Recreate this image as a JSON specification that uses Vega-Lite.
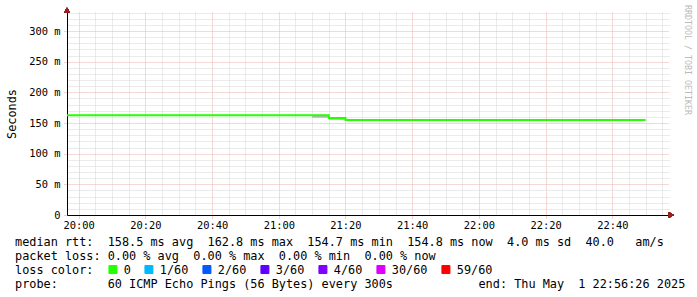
{
  "$schema": "https://vega.github.io/schema/vega-lite/v6.json",
  "width": 602,
  "height": 203,
  "autosize": "none",
  "padding": {"left": 67, "top": 12, "right": 28, "bottom": 82},
  "background": "white",
  "config": {"view": {"stroke": null}, "font": "DejaVu Sans Mono"},
  "data": {"values": [
    {"time": "2025-05-01T19:55:00Z", "median": 162.8, "lo": 162.8, "hi": 162.8, "loss": "0"},
    {"time": "2025-05-01T20:00:00Z", "median": 162.8, "lo": 162.8, "hi": 162.8, "loss": "0"},
    {"time": "2025-05-01T20:05:00Z", "median": 162.8, "lo": 162.8, "hi": 162.8, "loss": "0"},
    {"time": "2025-05-01T20:10:00Z", "median": 162.8, "lo": 162.8, "hi": 162.8, "loss": "0"},
    {"time": "2025-05-01T20:15:00Z", "median": 162.8, "lo": 162.8, "hi": 162.8, "loss": "0"},
    {"time": "2025-05-01T20:20:00Z", "median": 162.8, "lo": 162.8, "hi": 162.8, "loss": "0"},
    {"time": "2025-05-01T20:25:00Z", "median": 162.8, "lo": 162.8, "hi": 162.8, "loss": "0"},
    {"time": "2025-05-01T20:30:00Z", "median": 162.8, "lo": 162.8, "hi": 162.8, "loss": "0"},
    {"time": "2025-05-01T20:35:00Z", "median": 162.8, "lo": 162.8, "hi": 162.8, "loss": "0"},
    {"time": "2025-05-01T20:40:00Z", "median": 162.8, "lo": 162.8, "hi": 162.8, "loss": "0"},
    {"time": "2025-05-01T20:45:00Z", "median": 162.8, "lo": 162.8, "hi": 162.8, "loss": "0"},
    {"time": "2025-05-01T20:50:00Z", "median": 162.8, "lo": 162.8, "hi": 162.8, "loss": "0"},
    {"time": "2025-05-01T20:55:00Z", "median": 162.8, "lo": 162.8, "hi": 162.8, "loss": "0"},
    {"time": "2025-05-01T21:00:00Z", "median": 162.8, "lo": 162.8, "hi": 162.8, "loss": "0"},
    {"time": "2025-05-01T21:05:00Z", "median": 162.8, "lo": 162.8, "hi": 162.8, "loss": "0"},
    {"time": "2025-05-01T21:10:00Z", "median": 162.8, "lo": 162.8, "hi": 162.8, "loss": "0"},
    {"time": "2025-05-01T21:15:00Z", "median": 162.8, "lo": 158.6, "hi": 162.8, "loss": "0"},
    {"time": "2025-05-01T21:20:00Z", "median": 158.2, "lo": 155.4, "hi": 158.2, "loss": "0"},
    {"time": "2025-05-01T21:25:00Z", "median": 154.8, "lo": 154.8, "hi": 154.8, "loss": "0"},
    {"time": "2025-05-01T21:30:00Z", "median": 154.8, "lo": 154.8, "hi": 154.8, "loss": "0"},
    {"time": "2025-05-01T21:35:00Z", "median": 154.8, "lo": 154.8, "hi": 154.8, "loss": "0"},
    {"time": "2025-05-01T21:40:00Z", "median": 154.8, "lo": 154.8, "hi": 154.8, "loss": "0"},
    {"time": "2025-05-01T21:45:00Z", "median": 154.8, "lo": 154.8, "hi": 154.8, "loss": "0"},
    {"time": "2025-05-01T21:50:00Z", "median": 154.8, "lo": 154.8, "hi": 154.8, "loss": "0"},
    {"time": "2025-05-01T21:55:00Z", "median": 154.8, "lo": 154.8, "hi": 154.8, "loss": "0"},
    {"time": "2025-05-01T22:00:00Z", "median": 154.7, "lo": 154.7, "hi": 154.7, "loss": "0"},
    {"time": "2025-05-01T22:05:00Z", "median": 154.8, "lo": 154.8, "hi": 154.8, "loss": "0"},
    {"time": "2025-05-01T22:10:00Z", "median": 154.8, "lo": 154.8, "hi": 154.8, "loss": "0"},
    {"time": "2025-05-01T22:15:00Z", "median": 154.8, "lo": 154.8, "hi": 154.8, "loss": "0"},
    {"time": "2025-05-01T22:20:00Z", "median": 154.8, "lo": 154.8, "hi": 154.8, "loss": "0"},
    {"time": "2025-05-01T22:25:00Z", "median": 154.8, "lo": 154.8, "hi": 154.8, "loss": "0"},
    {"time": "2025-05-01T22:30:00Z", "median": 154.8, "lo": 154.8, "hi": 154.8, "loss": "0"},
    {"time": "2025-05-01T22:35:00Z", "median": 154.8, "lo": 154.8, "hi": 154.8, "loss": "0"},
    {"time": "2025-05-01T22:40:00Z", "median": 154.8, "lo": 154.8, "hi": 154.8, "loss": "0"},
    {"time": "2025-05-01T22:45:00Z", "median": 154.8, "lo": 154.8, "hi": 154.8, "loss": "0"},
    {"time": "2025-05-01T22:50:00Z", "median": 154.8, "lo": 154.8, "hi": 154.8, "loss": "0"}
  ]},
  "resolve": {"axis": {"x": "independent", "y": "independent"}},
  "layer": [
    {
      "mark": {"type": "area", "interpolate": "step-before", "color": "#b8b8b8", "opacity": 1, "clip": true},
      "encoding": {
        "x": {"field": "time", "type": "temporal",
          "scale": {"type": "utc", "domain": [1746129390000, 1746140220000]},
          "axis": {"orient": "top", "values": [1746129900000, 1746130200000, 1746130500000, 1746131100000, 1746131400000, 1746131700000, 1746132300000, 1746132600000, 1746132900000, 1746133500000, 1746133800000, 1746134100000, 1746134700000, 1746135000000, 1746135300000, 1746135900000, 1746136200000, 1746136500000, 1746137100000, 1746137400000, 1746137700000, 1746138300000, 1746138600000, 1746138900000, 1746139500000, 1746139800000, 1746140100000],
            "grid": true, "gridColor": "#d6d6d6", "gridDash": [1, 1], "gridOpacity": 1, "gridWidth": 1,
            "labels": false, "ticks": false, "domain": false, "title": null}},
        "y": {"field": "lo", "type": "quantitative",
          "scale": {"domain": [0, 331], "nice": false, "zero": false},
          "axis": {"orient": "right", "values": [10, 20, 30, 40, 60, 70, 80, 90, 110, 120, 130, 140, 160, 170, 180, 190, 210, 220, 230, 240, 260, 270, 280, 290, 310, 320, 330],
            "grid": true, "gridColor": "#d6d6d6", "gridDash": [1, 1], "gridOpacity": 1, "gridWidth": 1,
            "labels": false, "ticks": false, "domain": false,
            "title": "RRDTOOL / TOBI OETIKER", "titleAngle": 90, "titleX": 17.5, "titleY": 47.5,
            "titleAlign": "center", "titleBaseline": "middle", "titleFont": "DejaVu Sans Mono",
            "titleFontSize": 8.3, "titleFontWeight": "normal", "titleColor": "#bbbbbb"}},
        "y2": {"field": "hi"}
      }
    },
    {
      "mark": {"type": "line", "interpolate": "step-before", "strokeWidth": 2, "clip": true},
      "encoding": {
        "x": {"field": "time", "type": "temporal",
          "scale": {"type": "utc", "domain": [1746129390000, 1746140220000]},
          "axis": {"orient": "bottom", "values": [1746129600000, 1746130800000, 1746132000000, 1746133200000, 1746134400000, 1746135600000, 1746136800000, 1746138000000, 1746139200000],
            "format": "%H:%M", "labelFont": "DejaVu Sans Mono", "labelFontSize": 10.4, "labelColor": "#000000",
            "labelPadding": 2, "tickSize": 3, "tickColor": "#e0a0a0", "tickDash": [1, 1],
            "grid": true, "gridColor": "#ebb0b0", "gridDash": [1, 1], "gridOpacity": 1, "gridWidth": 1,
            "domain": true, "domainColor": "#000000", "domainWidth": 1,
            "title": [
              "median\u00a0rtt:\u00a0\u00a0158.5\u00a0ms\u00a0avg\u00a0\u00a0162.8\u00a0ms\u00a0max\u00a0\u00a0154.7\u00a0ms\u00a0min\u00a0\u00a0154.8\u00a0ms\u00a0now\u00a0\u00a04.0\u00a0ms\u00a0sd\u00a0\u00a040.0\u00a0\u00a0\u00a0am/s",
              "packet\u00a0loss:\u00a00.00\u00a0%\u00a0avg\u00a0\u00a00.00\u00a0%\u00a0max\u00a0\u00a00.00\u00a0%\u00a0min\u00a0\u00a00.00\u00a0%\u00a0now",
              "loss\u00a0color:",
              "probe:\u00a0\u00a0\u00a0\u00a0\u00a0\u00a0\u00a060\u00a0ICMP\u00a0Echo\u00a0Pings\u00a0(56\u00a0Bytes)\u00a0every\u00a0300s\u00a0\u00a0\u00a0\u00a0\u00a0\u00a0\u00a0\u00a0\u00a0\u00a0\u00a0\u00a0end:\u00a0Thu\u00a0May\u00a0\u00a01\u00a022:56:26\u00a02025"
            ],
            "titleX": -52.5, "titleY": 30, "titleAlign": "left", "titleBaseline": "alphabetic",
            "titleLineHeight": 14, "titleFont": "DejaVu Sans Mono", "titleFontSize": 11.85,
            "titleFontWeight": "normal", "titleColor": "#000000", "titleLimit": 2000}},
        "y": {"field": "median", "type": "quantitative",
          "scale": {"domain": [0, 331], "nice": false, "zero": false},
          "axis": {"orient": "left", "values": [0, 50, 100, 150, 200, 250, 300],
            "labelExpr": "datum.value == 0 ? '0' : datum.value + ' m'",
            "labelFont": "DejaVu Sans Mono", "labelFontSize": 10.4, "labelColor": "#000000", "labelPadding": 4,
            "tickSize": 3, "tickColor": "#e0a0a0", "tickDash": [1, 1],
            "grid": true, "gridColor": "#ebb0b0", "gridDash": [1, 1], "gridOpacity": 1, "gridWidth": 1,
            "domain": true, "domainColor": "#000000", "domainWidth": 1,
            "title": "Seconds", "titleAngle": 270, "titleX": -56, "titleY": 101.5,
            "titleAlign": "center", "titleBaseline": "middle", "titleFont": "DejaVu Sans Mono",
            "titleFontSize": 11.85, "titleFontWeight": "normal", "titleColor": "#000000"}},
        "color": {"field": "loss", "type": "nominal",
          "scale": {"domain": ["0", "1/60", "2/60", "3/60", "4/60", "30/60", "59/60"],
            "range": ["#26ff00", "#00b8ff", "#0059ff", "#5e00ff", "#7e00ff", "#dd00ff", "#ff0000"]},
          "legend": {"orient": "none", "legendX": 40, "legendY": 251.5, "direction": "horizontal", "columns": 7,
            "title": null, "symbolType": "square", "symbolSize": 64, "symbolStrokeWidth": 1,
            "labelFont": "DejaVu Sans Mono", "labelFontSize": 11.85, "labelColor": "#000000",
            "labelOffset": 5, "columnPadding": 11, "padding": 0,
            "encode": {"symbols": {"update": {
              "fill": {"scale": "color", "field": "value"},
              "stroke": {"value": "#000000"},
              "strokeWidth": {"value": 1},
              "strokeDash": {"value": []},
              "opacity": {"value": 1}}}}}}
      }
    },
    {
      "mark": {"type": "point", "shape": "triangle-up", "filled": true, "color": "#991f1f", "opacity": 1, "size": 36, "yOffset": -1.6},
      "encoding": {
        "x": {"datum": 1746129390000, "type": "temporal", "axis": null},
        "y": {"datum": 331, "type": "quantitative", "axis": null}
      }
    },
    {
      "mark": {"type": "point", "shape": "triangle-right", "filled": true, "color": "#991f1f", "opacity": 1, "size": 36, "xOffset": 2.2},
      "encoding": {
        "x": {"datum": 1746140220000, "type": "temporal", "axis": null},
        "y": {"datum": 0, "type": "quantitative", "axis": null}
      }
    }
  ]
}
